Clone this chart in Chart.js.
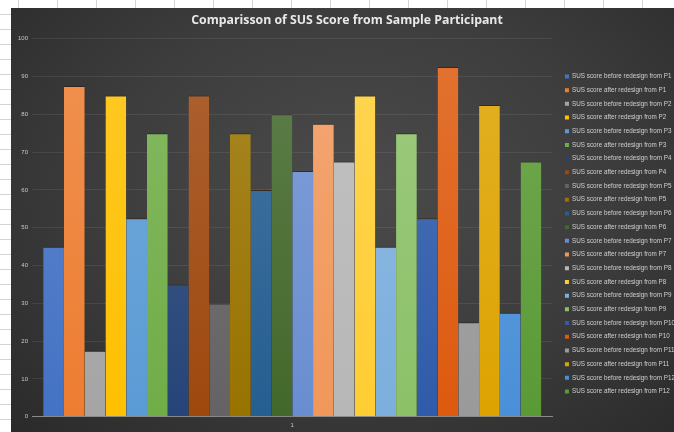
<!DOCTYPE html>
<html>
<head>
<meta charset="utf-8">
<script src="https://cdn.jsdelivr.net/npm/chart.js@4/dist/chart.umd.min.js"></script>
<style>
  html, body { margin:0; padding:0; }
  body {
    width:674px; height:432px; overflow:hidden; position:relative;
    background-color:#fff;
    background-image:
      repeating-linear-gradient(90deg, transparent 0 18px, #d4d4d4 18px 19px, transparent 19px 39px),
      repeating-linear-gradient(180deg, transparent 0 14px, #d4d4d4 14px 15px);
  }
  #wrap {
    position:absolute; left:11px; top:8px; width:663px; height:424px;
    background: radial-gradient(ellipse 75% 85% at 52% 42%, #4b4b4b 0%, #3d3d3d 50%, #292929 100%);
  }
</style>
</head>
<body>
<div id="wrap"><canvas id="chart"></canvas></div>
<script>
// =========================
// DATA
// =========================

const categories = ["1"];
const participants = ["P1","P2","P3","P4","P5","P6","P7","P8","P9","P10","P11","P12"];
const before = [45, 17.5, 52.5, 35, 30, 60, 65, 67.5, 45, 52.5, 25, 27.5];
const after  = [87.5, 85, 75, 85, 75, 80, 77.5, 85, 75, 92.5, 82.5, 67.5];
const yTicks = [0,10,20,30,40,50,60,70,80,90,100];

// excel palette, one colour per bar (before, after, before, after...)
const colors = [
  "#4472C4","#ED7D31","#A5A5A5","#FFC000","#5B9BD5","#70AD47",
  "#264478","#9E480E","#636363","#997300","#255E91","#43682B",
  "#698ED0","#F1975A","#B7B7B7","#FFCD33","#7CAFDD","#8CC168",
  "#2F5BAA","#DD5A0E","#9A9A9A","#DDA300","#4A90D8","#5A9A35"
];

// =========================
// UTILS
// =========================

function lighten(hex, amt){
  const n = parseInt(hex.slice(1),16);
  let r = n>>16, g = (n>>8)&255, b = n&255;
  r = Math.round(r + (255-r)*amt);
  g = Math.round(g + (255-g)*amt);
  b = Math.round(b + (255-b)*amt);
  return "rgb("+r+","+g+","+b+")";
}

function barFill(col){
  return function(ctx){
    const area = ctx.chart.chartArea;
    if(!area) return col;
    const grd = ctx.chart.ctx.createLinearGradient(0, area.top, 0, area.bottom);
    grd.addColorStop(0, lighten(col, 0.15));
    grd.addColorStop(1, col);
    return grd;
  };
}

// nudge the legend block a bit right / down like the excel one
const legendNudge = {
  id:"legendNudge",
  afterLayout(chart){
    const lg = chart.legend;
    if(!lg) return;
    lg.left += 5; lg.right += 5;
    lg.top += 13; lg.bottom += 13;
  }
};

// =========================
// CHART
// =========================

const datasets = [];
participants.forEach((p,i)=>{
  datasets.push({
    label: "SUS score before redesign from " + p,
    data: [before[i]],
    backgroundColor: barFill(colors[i*2]),
    legendColor: colors[i*2]
  });
  datasets.push({
    label: "SUS score after redesign from " + p,
    data: [after[i]],
    backgroundColor: barFill(colors[i*2+1]),
    legendColor: colors[i*2+1]
  });
});

datasets.forEach(d=>{
  d.borderColor = "rgba(40,25,10,0.55)";
  d.borderWidth = {top:1, left:0, right:0, bottom:0};
  d.barPercentage = 1;
  d.categoryPercentage = 0.957;
});

new Chart(document.getElementById("chart"),{
  type:"bar",
  data:{ labels: categories, datasets },
  plugins:[legendNudge],
  options:{
    responsive:true,
    maintainAspectRatio:false,
    animation:false,
    layout:{ padding:{ left:3, right:-6, top:0, bottom:-2 } },
    plugins:{
      title:{
        display:true,
        text:"Comparisson of SUS Score from Sample Participant",
        color:"#e8e8e8",
        font:{ family:"Open Sans", size:12.3, weight:"bold" },
        padding:{ top:5, bottom:11 }
      },
      legend:{
        position:"right",
        labels:{
          color:"#d0d0d0",
          font:{ family:"Liberation Sans", size:6.3 },
          boxWidth:4,
          boxHeight:4,
          padding:7.4,
          generateLabels(chart){
            return chart.data.datasets.map((d,i)=>({
              text:d.label,
              fillStyle:d.legendColor,
              strokeStyle:d.legendColor,
              lineWidth:0,
              fontColor:"#d0d0d0",
              datasetIndex:i,
              hidden:false
            }));
          }
        }
      },
      tooltip:{ enabled:false }
    },
    scales:{
      x:{
        grid:{ display:false, drawTicks:false },
        border:{ display:true, color:"#8a8a8a", width:1 },
        ticks:{ color:"#c8c8c8", font:{ family:"Liberation Sans", size:6 }, padding:5 }
      },
      y:{
        min:0, max:100,
        afterBuildTicks(axis){ axis.ticks = yTicks.map(v=>({value:v})); },
        grid:{ color:"rgba(255,255,255,0.08)", drawTicks:false },
        border:{ display:false },
        ticks:{ color:"#c8c8c8", font:{ family:"Liberation Sans", size:6 }, padding:4 }
      }
    }
  }
});
</script>
</body>
</html>
